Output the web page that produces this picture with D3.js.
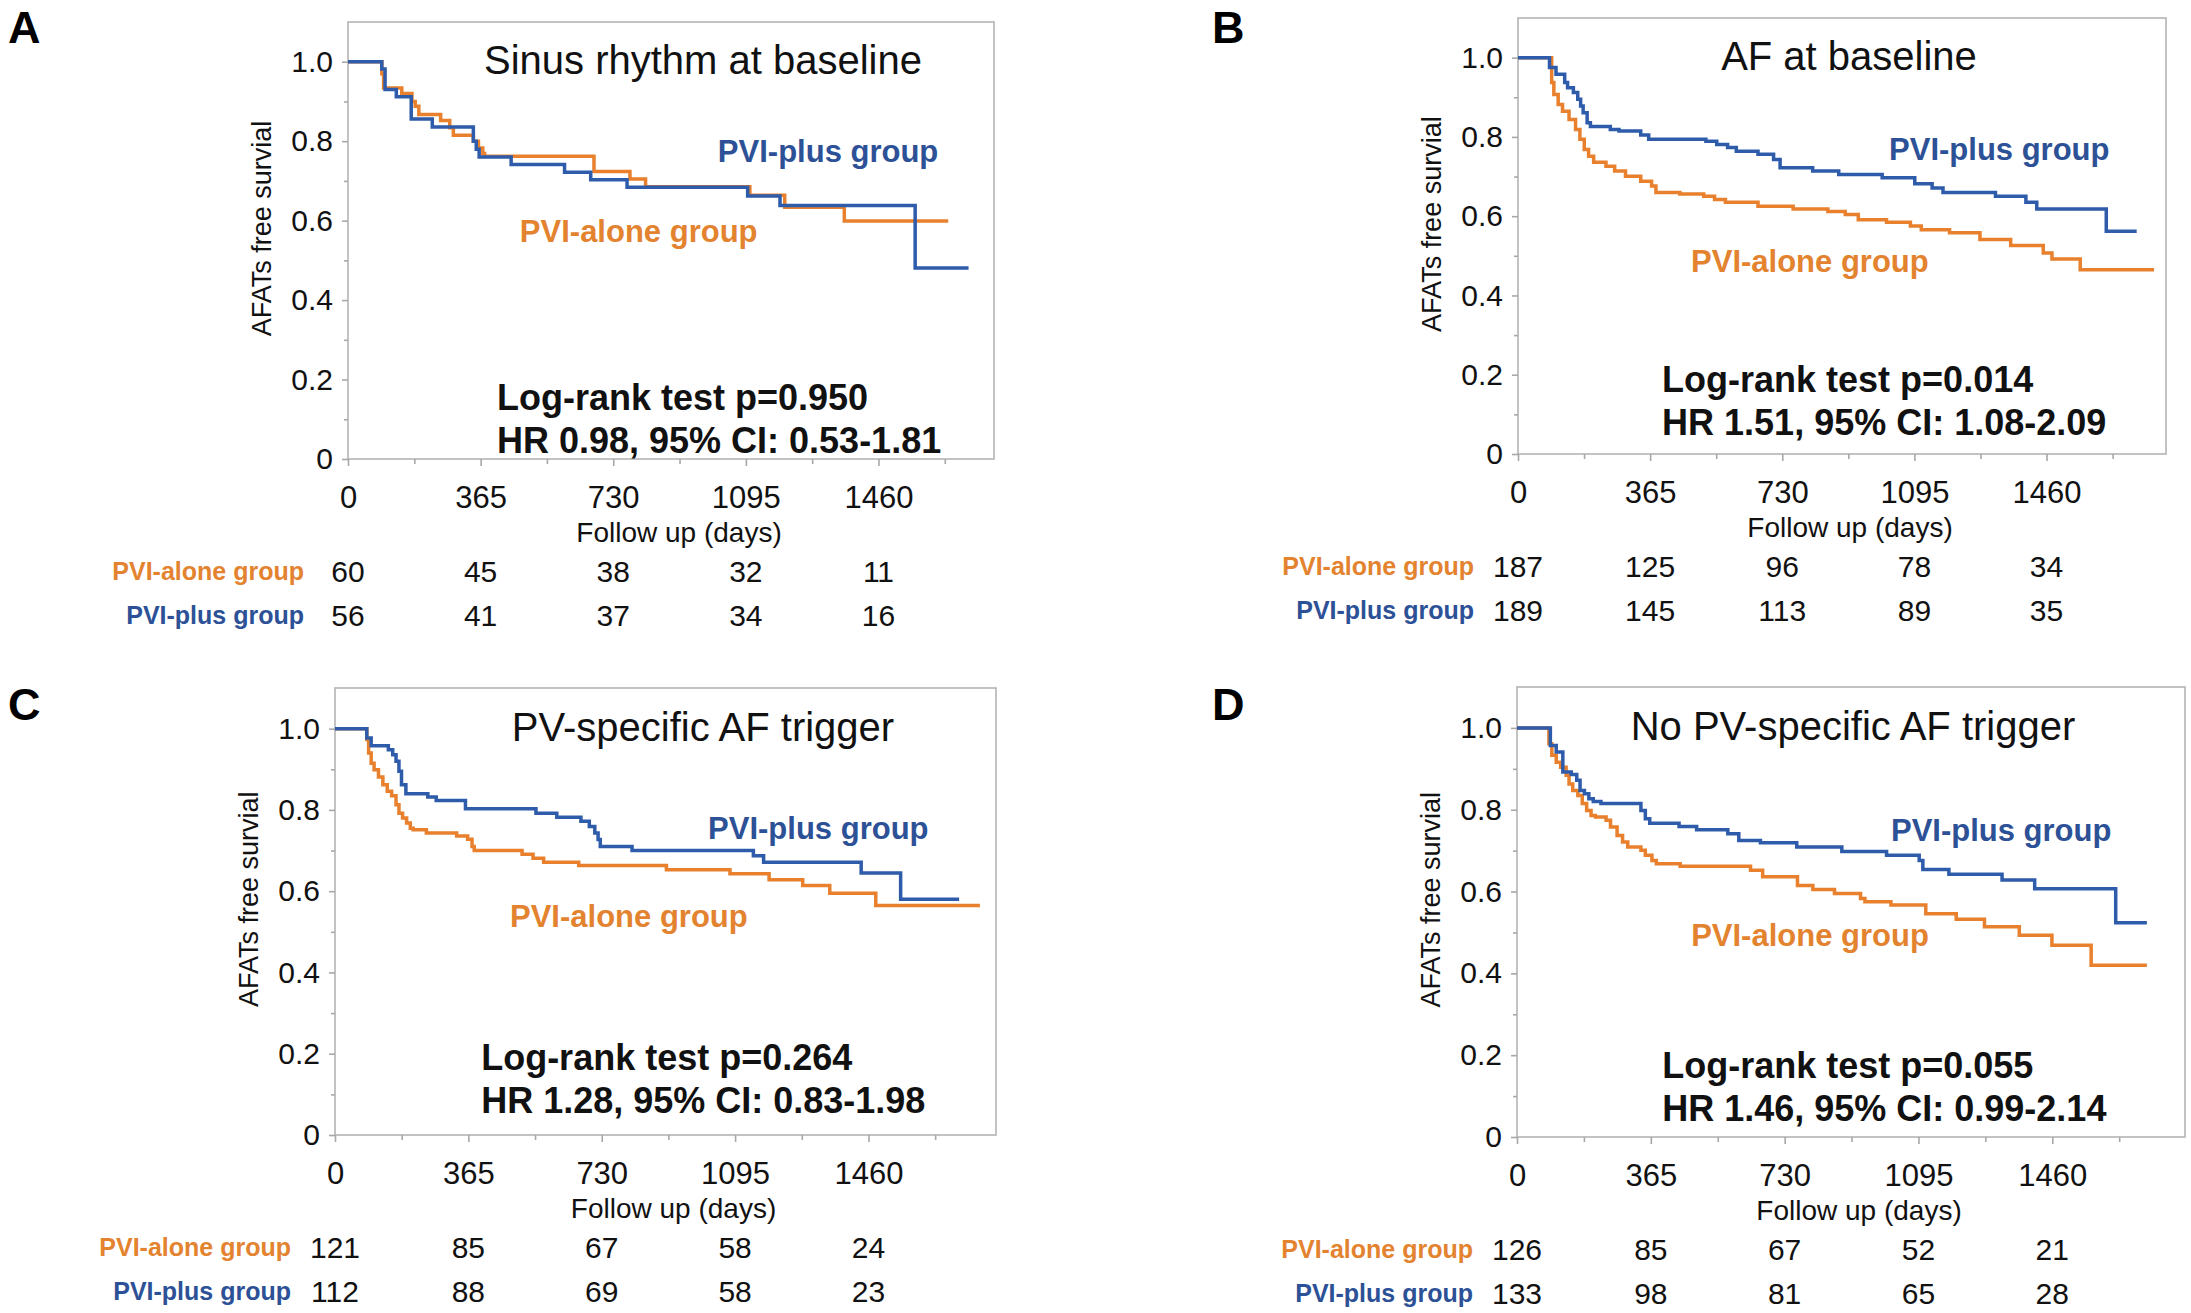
<!DOCTYPE html>
<meta charset="utf-8">
<style>

body {
  margin: 0;
  background: #fff;
}

svg {
  display: block;
  font-family: "Liberation Sans", Arial, Helvetica, sans-serif;
}

.box {
  fill: none;
  stroke: #b4b4b4;
  stroke-width: 1.6;
}

.axis path {
  display: none;
}

.axis line {
  stroke: #a8a8a8;
  stroke-width: 1.6;
}

.axis text {
  fill: #111;
}

.km {
  fill: none;
  stroke-width: 3.5;
}

</style>
<svg width="2191" height="1313"></svg>
<script src="https://d3js.org/d3.v7.min.js"></script>
<script>

  // ---- data (days, AF/AT-free survival) ----
  var aTimesAlone = [0, 93, 98, 148, 176, 185, 195, 255, 280, 290, 345, 359, 371, 376, 677, 776, 819, 1106, 1202, 1366, 1652];
  var aSurvAlone  = [1, 0.97, 0.934, 0.92, 0.90, 0.888, 0.867, 0.852, 0.834, 0.815, 0.80, 0.783, 0.769, 0.762, 0.724, 0.705, 0.685, 0.664, 0.634, 0.599, 0.599];
  var aTimesPlus  = [0, 93, 102, 133, 174, 232, 345, 353, 361, 449, 596, 668, 768, 1100, 1189, 1561, 1708];
  var aSurvPlus   = [1, 0.982, 0.930, 0.912, 0.856, 0.836, 0.80, 0.78, 0.76, 0.741, 0.722, 0.703, 0.684, 0.662, 0.638, 0.481, 0.481];

  var bTimesAlone = [0, 93, 99, 111, 123, 141, 159, 171, 183, 195, 209, 243, 267, 297, 339, 369, 381, 447, 513, 543, 573, 663, 760, 856, 904, 940, 1018, 1084, 1114, 1192, 1276, 1361, 1451, 1475, 1553, 1757];
  var bSurvAlone  = [1, 0.937, 0.907, 0.882, 0.865, 0.844, 0.819, 0.794, 0.768, 0.751, 0.736, 0.726, 0.714, 0.701, 0.688, 0.676, 0.660, 0.656, 0.650, 0.642, 0.635, 0.625, 0.618, 0.612, 0.604, 0.591, 0.585, 0.575, 0.566, 0.558, 0.541, 0.526, 0.507, 0.492, 0.465, 0.465];
  var bTimesPlus  = [0, 87, 105, 129, 137, 153, 165, 173, 180, 191, 200, 255, 279, 339, 361, 519, 549, 579, 603, 663, 706, 724, 814, 886, 1006, 1096, 1144, 1174, 1319, 1403, 1433, 1625, 1709];
  var bSurvPlus   = [1, 0.975, 0.958, 0.937, 0.924, 0.912, 0.895, 0.878, 0.861, 0.836, 0.826, 0.819, 0.815, 0.805, 0.794, 0.789, 0.781, 0.773, 0.764, 0.756, 0.743, 0.722, 0.714, 0.705, 0.697, 0.682, 0.671, 0.660, 0.650, 0.635, 0.618, 0.562, 0.562];

  var cTimesAlone = [0, 87, 92, 99, 107, 119, 131, 143, 155, 167, 175, 185, 196, 206, 214, 250, 333, 363, 375, 381, 512, 542, 571, 667, 907, 1081, 1188, 1280, 1354, 1480, 1765];
  var cSurvAlone  = [1, 0.973, 0.940, 0.915, 0.899, 0.881, 0.862, 0.846, 0.835, 0.813, 0.792, 0.780, 0.768, 0.755, 0.751, 0.743, 0.736, 0.728, 0.710, 0.700, 0.691, 0.681, 0.671, 0.663, 0.653, 0.643, 0.628, 0.614, 0.595, 0.565, 0.565];
  var cTimesPlus  = [0, 87, 99, 146, 158, 167, 175, 182, 194, 254, 277, 357, 550, 607, 673, 696, 711, 720, 726, 813, 1145, 1173, 1440, 1548, 1708];
  var cSurvPlus   = [1, 0.977, 0.958, 0.948, 0.936, 0.920, 0.895, 0.862, 0.840, 0.832, 0.823, 0.803, 0.792, 0.782, 0.772, 0.759, 0.743, 0.727, 0.710, 0.700, 0.687, 0.671, 0.645, 0.580, 0.580];

  var dTimesAlone = [0, 87, 95, 107, 119, 134, 142, 152, 166, 178, 190, 202, 214, 243, 255, 273, 288, 302, 338, 350, 368, 380, 445, 637, 670, 765, 807, 866, 937, 949, 1020, 1115, 1198, 1275, 1370, 1459, 1566, 1718];
  var dSurvAlone  = [1, 0.961, 0.933, 0.916, 0.904, 0.884, 0.863, 0.847, 0.835, 0.815, 0.798, 0.786, 0.782, 0.774, 0.758, 0.737, 0.721, 0.709, 0.701, 0.689, 0.676, 0.668, 0.662, 0.652, 0.636, 0.615, 0.605, 0.595, 0.583, 0.575, 0.567, 0.546, 0.532, 0.514, 0.493, 0.469, 0.420, 0.420];
  var dTimesPlus  = [0, 91, 107, 125, 148, 163, 172, 184, 196, 208, 229, 338, 350, 362, 442, 490, 575, 605, 664, 763, 886, 1008, 1097, 1107, 1178, 1323, 1412, 1633, 1718];
  var dSurvPlus   = [1, 0.957, 0.941, 0.892, 0.886, 0.872, 0.847, 0.839, 0.827, 0.820, 0.815, 0.798, 0.778, 0.767, 0.759, 0.751, 0.741, 0.725, 0.719, 0.709, 0.698, 0.689, 0.676, 0.654, 0.642, 0.628, 0.607, 0.524, 0.524];

  // numbers at risk
  var riskDays = [0, 365, 730, 1095, 1460];
  var aRiskAlone = [60, 45, 38, 32, 11];
  var aRiskPlus  = [56, 41, 37, 34, 16];
  var bRiskAlone = [187, 125, 96, 78, 34];
  var bRiskPlus  = [189, 145, 113, 89, 35];
  var cRiskAlone = [121, 85, 67, 58, 24];
  var cRiskPlus  = [112, 88, 69, 58, 23];
  var dRiskAlone = [126, 85, 67, 52, 21];
  var dRiskPlus  = [133, 98, 81, 65, 28];

  // tick values
  var xMajor = [0, 365, 730, 1095, 1460];
  var xMinor = [182.5, 547.5, 912.5, 1277.5, 1642.5];
  var yMajor = [0, 0.2, 0.4, 0.6, 0.8, 1.0];
  var yMinor = [0.1, 0.3, 0.5, 0.7, 0.9];

  var titles = ["Sinus rhythm at baseline", "AF at baseline", "PV-specific AF trigger", "No PV-specific AF trigger"];
  var logRank = ["Log-rank test p=0.950", "Log-rank test p=0.014", "Log-rank test p=0.264", "Log-rank test p=0.055"];
  var hazard = ["HR 0.98, 95% CI: 0.53-1.81", "HR 1.51, 95% CI: 1.08-2.09", "HR 1.28, 95% CI: 0.83-1.98", "HR 1.46, 95% CI: 0.99-2.14"];

  var orangeLine = "#e8802d", blueLine = "#2e5cab";
  var orangeText = "#e3832f", blueText = "#2d5196";

  function steps(times, surv) {
    return times.map(function(t, i) { return { t: t, s: surv[i] }; });
  }

  // layout of each panel in pixels (positions only, no data)
  var panels = [
    { id: "A", left: 348, right: 994, top: 22, bottom: 459, xMax: 1778, letter: [8, 43], titleX: 703,
      alone: steps(aTimesAlone, aSurvAlone), plus: steps(aTimesPlus, aSurvPlus), riskAlone: aRiskAlone, riskPlus: aRiskPlus,
      plusLab: [1018, 0.776], aloneLab: [473, 0.574], statsAt: [410, 0.156] },
    { id: "B", left: 1518, right: 2166, top: 18, bottom: 454, xMax: 1790, letter: [1212, 43], titleX: 1849,
      alone: steps(bTimesAlone, bSurvAlone), plus: steps(bTimesPlus, bSurvPlus), riskAlone: bRiskAlone, riskPlus: bRiskPlus,
      plusLab: [1025, 0.768], aloneLab: [478, 0.487], statsAt: [398, 0.189] },
    { id: "C", left: 335, right: 996, top: 688, bottom: 1135, xMax: 1809, letter: [8, 720], titleX: 703,
      alone: steps(cTimesAlone, cSurvAlone), plus: steps(cTimesPlus, cSurvPlus), riskAlone: cRiskAlone, riskPlus: cRiskPlus,
      plusLab: [1021, 0.754], aloneLab: [479, 0.539], statsAt: [400, 0.19] },
    { id: "D", left: 1517, right: 2185, top: 687, bottom: 1137, xMax: 1822, letter: [1212, 720], titleX: 1853,
      alone: steps(dTimesAlone, dSurvAlone), plus: steps(dTimesPlus, dSurvPlus), riskAlone: dRiskAlone, riskPlus: dRiskPlus,
      plusLab: [1020, 0.751], aloneLab: [475, 0.493], statsAt: [396, 0.176] }
  ];

  var svg = d3.select("svg");

  panels.forEach(function(p, i) {
    var x = d3.scaleLinear().domain([0, p.xMax]).range([p.left, p.right]);
    var y = d3.scaleLinear().domain([0, 1.1]).range([p.bottom, p.top]);
    var g = svg.append("g");

    // panel letter
    g.append("text")
      .attr("x", p.letter[0]).attr("y", p.letter[1])
      .attr("font-size", 45).attr("font-weight", "bold")
      .text(p.id);

    // frame
    g.append("rect")
      .attr("class", "box")
      .attr("x", p.left).attr("y", p.top)
      .attr("width", p.right - p.left).attr("height", p.bottom - p.top);

    // x axis, major + minor ticks
    g.append("g")
      .attr("class", "axis")
      .attr("transform", "translate(0," + p.bottom + ")")
      .call(d3.axisBottom(x).tickValues(xMajor).tickSize(7).tickPadding(20).tickFormat(d3.format("d")))
      .selectAll("text").attr("font-size", 31);
    g.append("g")
      .attr("class", "axis")
      .attr("transform", "translate(0," + p.bottom + ")")
      .call(d3.axisBottom(x).tickValues(xMinor).tickSize(5).tickFormat(""));

    // y axis, major + minor ticks
    g.append("g")
      .attr("class", "axis")
      .attr("transform", "translate(" + p.left + ",0)")
      .call(d3.axisLeft(y).tickValues(yMajor).tickSize(6).tickPadding(9)
        .tickFormat(function(d) { return d === 0 ? "0" : d.toFixed(1); }))
      .selectAll("text").attr("font-size", 30);
    g.append("g")
      .attr("class", "axis")
      .attr("transform", "translate(" + p.left + ",0)")
      .call(d3.axisLeft(y).tickValues(yMinor).tickSize(4).tickFormat(""));

    // axis titles
    g.append("text")
      .attr("x", (p.left + p.right) / 2 + 8).attr("y", p.bottom + 73)
      .attr("dy", "0.35em").attr("text-anchor", "middle")
      .attr("font-size", 28).attr("fill", "#111")
      .text("Follow up (days)");
    g.append("text")
      .attr("transform", "translate(" + (p.left - 86) + "," + y(0.58) + ") rotate(-90)")
      .attr("dy", "0.35em").attr("text-anchor", "middle")
      .attr("font-size", 27).attr("fill", "#111")
      .text("AFATs free survial");

    // title
    g.append("text")
      .attr("x", p.titleX).attr("y", y(1.0) - 2)
      .attr("dy", "0.35em").attr("text-anchor", "middle")
      .attr("font-size", 40).attr("fill", "#111")
      .text(titles[i]);

    // Kaplan-Meier step curves
    var line = d3.line()
      .x(function(d) { return x(d.t); })
      .y(function(d) { return y(d.s); })
      .curve(d3.curveStepAfter);

    g.append("path").datum(p.alone).attr("class", "km").attr("stroke", orangeLine).attr("d", line);
    g.append("path").datum(p.plus).attr("class", "km").attr("stroke", blueLine).attr("d", line);

    // group labels in the plot
    g.append("text")
      .attr("x", x(p.plusLab[0])).attr("y", y(p.plusLab[1]))
      .attr("dy", "0.35em").attr("font-size", 31).attr("font-weight", "bold")
      .attr("fill", blueText).text("PVI-plus group");
    g.append("text")
      .attr("x", x(p.aloneLab[0])).attr("y", y(p.aloneLab[1]))
      .attr("dy", "0.35em").attr("font-size", 31).attr("font-weight", "bold")
      .attr("fill", orangeText).text("PVI-alone group");

    // statistics
    g.append("text")
      .attr("x", x(p.statsAt[0])).attr("y", y(p.statsAt[1]))
      .attr("dy", "0.35em").attr("font-size", 36).attr("font-weight", "bold")
      .attr("fill", "#111").text(logRank[i]);
    g.append("text")
      .attr("x", x(p.statsAt[0])).attr("y", y(p.statsAt[1]) + 43)
      .attr("dy", "0.35em").attr("font-size", 36).attr("font-weight", "bold")
      .attr("fill", "#111").text(hazard[i]);

    // numbers at risk table
    var rows = [
      { name: "PVI-alone group", color: orangeText, values: p.riskAlone, dy: 112 },
      { name: "PVI-plus group", color: blueText, values: p.riskPlus, dy: 156 }
    ];
    rows.forEach(function(r) {
      g.append("text")
        .attr("x", p.left - 44).attr("y", p.bottom + r.dy)
        .attr("dy", "0.35em").attr("text-anchor", "end")
        .attr("font-size", 25).attr("font-weight", "bold")
        .attr("fill", r.color).text(r.name);
      g.selectAll(null)
        .data(r.values)
        .enter().append("text")
        .attr("x", function(d, k) { return x(riskDays[k]); })
        .attr("y", p.bottom + r.dy)
        .attr("dy", "0.35em").attr("text-anchor", "middle")
        .attr("font-size", 30).attr("fill", "#111")
        .text(function(d) { return d; });
    });
  });
</script>
